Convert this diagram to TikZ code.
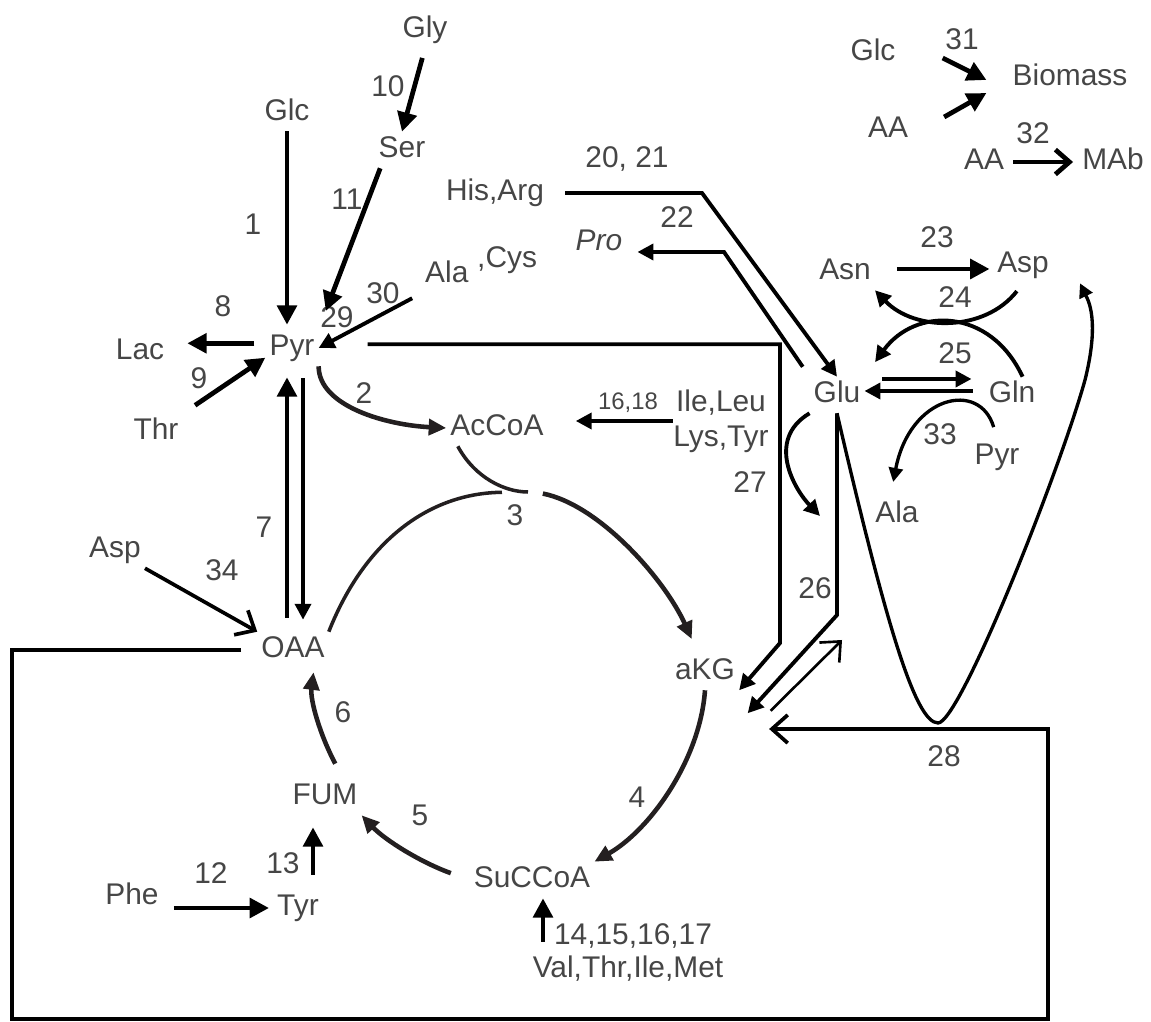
\documentclass[tikz,border=0pt]{standalone}
\usepackage{fontspec}
\setmainfont{Liberation Sans}
\usepackage{xcolor}
\definecolor{txtgray}{RGB}{70,70,70}
\definecolor{tcadark}{RGB}{35,31,32}
\usetikzlibrary{arrows.meta}

\begin{document}
\begin{tikzpicture}[
        x=0.01cm, y=-0.01cm,
        met/.style={
            inner sep=1pt,
            text=txtgray,
            font=\fontsize{8.5}{10}\selectfont,
            text height=6.2pt,
            text depth=1.8pt
          },
        num/.style={
            inner sep=0pt,
            text=txtgray,
            font=\fontsize{8.5}{10}\selectfont
          },
        bold/.style={-{Triangle[length=5.5pt,width=5.5pt]}, line width=1.35pt},
        flux/.style={-{Triangle[length=4.5pt,width=4.5pt]}, line width=1.1pt},
        slim/.style={-{Triangle[length=4pt,width=4pt]}, line width=0.95pt},
        tca/.style={-{Triangle[length=5pt,width=4.5pt]}, draw=tcadark, line width=1.3pt},
        tcaline/.style={draw=tcadark, line width=1pt},
        barb/.style={-{Straight Barb[length=4.5pt,width=8pt]}, line width=1.05pt},
        barbthin/.style={-{Straight Barb[length=4.5pt,width=8pt]}, line width=0.75pt},
        barbbold/.style={-{Straight Barb[length=4pt,width=7pt]}, line width=1.35pt}
      ]
      \useasboundingbox (0,0) rectangle (1151,1022);

      \node[met] (gly) at (425,30) {Gly};
      \node[met] (ser) at (402,150) {Ser};
      \node[met] (glc) at (287,113) {Glc};
      \node[met] (pyr) at (292,348) {Pyr};
      \node[met] (lac) at (140,352) {Lac};
      \node[met] (thr) at (156,432) {Thr};
      \node[met, anchor=base west] (ala_cys) at (421,283) {Ala\hspace{2.5pt}\raisebox{4.5pt}{,Cys}};
      \node[met] (his_arg) at (495,193) {His,Arg};
      \node[met] (accoa) at (497,428) {AcCoA};
      \node[met, font=\fontsize{8.5}{10}\selectfont\itshape] (pro) at (599,243) {Pro};
      \node[num, align=center] (ile_leu) at (721,421) {Ile,Leu\\Lys,Tyr};
      \node[met] (glu) at (837,395) {Glu};
      \node[met] (asn) at (845,272) {Asn};
      \node[met] (asp) at (1023,265) {Asp};
      \node[met] (gln) at (1012,395) {Gln};
      \node[met] (pyr_b) at (997,457) {Pyr};
      \node[met] (ala_b) at (897,515) {Ala};
      \node[met] (glc_b) at (873,53) {Glc};
      \node[met] (aa_1) at (888,130) {AA};
      \node[met] (biomass) at (1070,78) {Biomass};
      \node[met] (aa_2) at (984,162) {AA};
      \node[met] (mab) at (1113,162) {MAb};
      \node[met] (asp_b) at (115,550) {Asp};
      \node[met] (oaa) at (293,650) {OAA};
      \node[met] (fum) at (325,797) {FUM};
      \node[met] (phe) at (132,897) {Phe};
      \node[met] (tyr) at (298,908) {Tyr};
      \node[met] (succoa) at (532,880) {SuCCoA};
      \node[met] (val_thr) at (628,970) {Val,Thr,Ile,Met};
      \node[met] (akg) at (705,672) {aKG};

      \coordinate (k_pyr) at (780,643);
      \coordinate (k_glu) at (837,615);
      \coordinate (k_his) at (702,193);
      \coordinate (k_pro) at (724,252);
      \coordinate (cit) at (535,492);
      \coordinate (box_bl) at (12,1019);
      \coordinate (box_tr) at (1048,729);
      \coordinate (u_bottom) at (938,723);
      \coordinate (u_turn) at (1085,380);
      \coordinate (tip27) at (820,516);
      \coordinate (glu26) at (842,640);

      \node[num] (r1) at (253,224) {1};
      \node[num] (r2) at (364,393) {2};
      \node[num] (r3) at (515,515) {3};
      \node[num] (r4) at (637,797) {4};
      \node[num] (r5) at (420,815) {5};
      \node[num] (r6) at (343,712) {6};
      \node[num] (r7) at (264,527) {7};
      \node[num] (r8) at (223,306) {8};
      \node[num] (r9) at (199,378) {9};
      \node[num] (r10) at (388,86) {10};
      \node[num] (r11) at (347,199) {11};
      \node[num] (r12) at (211,873) {12};
      \node[num] (r13) at (283,863) {13};
      \node[num] (r14) at (633,936) {14,15,16,17};
      \node[num, font=\fontsize{6.8}{8}\selectfont] (r16) at (628,403) {16,18};
      \node[num] (r20) at (627,159) {20, 21};
      \node[num] (r22) at (677,217) {22};
      \node[num] (r23) at (937,237) {23};
      \node[num] (r24) at (955,297) {24};
      \node[num] (r25) at (955,353) {25};
      \node[num] (r26) at (815,588) {26};
      \node[num] (r27) at (750,482) {27};
      \node[num] (r28) at (944,756) {28};
      \node[num] (r29) at (337,317) {29};
      \node[num] (r30) at (383,293) {30};
      \node[num] (r31) at (962,39) {31};
      \node[num] (r32) at (1033,133) {32};
      \node[num] (r33) at (940,434) {33};
      \node[num] (r34) at (222,570) {34};

      \draw[bold, shorten >=0.5mm] (glc.south) -- (glc.south |- pyr.north);
      \draw[bold, shorten <=1mm] (gly.south) -- (ser.north);
      \draw[bold, shorten >=2mm] (ser.220) -- (pyr.north east);
      \draw[bold, shorten <=1.1mm, shorten >=1.9mm] (pyr.170) -- (pyr.170 -| lac.east);
      \draw[bold, shorten <=1.5mm] (thr.north east) -- (pyr.200);
      \draw[flux, shorten <=1mm] (ala_cys.south west) -- (pyr.east);
      \draw[tca] (pyr.south east) .. controls +(0,40) and +(-60,-3) .. (accoa.west);

      \draw[bold, shorten <=1.4mm, shorten >=1.1mm] ([xshift=-0.6mm]oaa.north) -- ([xshift=-0.6mm]oaa.north |- pyr.south);
      \draw[flux, shorten <=1.2mm, shorten >=1.2mm] ([xshift=1.1mm]pyr.south) -- ([xshift=1.1mm]pyr.south |- oaa.north);

      \draw[tcaline, shorten >=0.7mm] (accoa.205) .. controls (475,478) and (505,492) .. (cit);
      \draw[tcaline, shorten >=3.3mm] (oaa.north east) .. controls (365,540) and (430,493) .. (cit);
      \draw[tca, shorten <=0.8mm, shorten >=1.6mm] (cit) .. controls (600,505) and (665,580) .. (akg.110);
      \draw[tca] (akg.south) .. controls (700,760) and (650,830) .. (succoa.north east);
      \draw[tca, shorten <=2mm] (succoa.west) .. controls (420,862) and (385,840) .. (fum.south east);
      \draw[tca, shorten <=1.7mm, shorten >=0.4mm] (fum.45) .. controls (320,735) and (310,700) .. (oaa.-41);

      \draw[barb] (asp_b.south east) -- (oaa.north west);
      \draw[bold, shorten <=1.1mm, shorten >=0.4mm] (tyr.west -| phe.east) -- (tyr.west);
      \draw[bold, shorten <=1.5mm, shorten >=1.2mm] ([xshift=1.5mm]tyr.north) -- ([xshift=1.5mm]tyr.north |- fum.south);
      \draw[bold, shorten <=1mm] ([xshift=1.1mm]succoa.south |- val_thr.north) -- ([xshift=1.1mm]succoa.south);

      \draw[flux, shorten <=4.9mm] (pyr.8) -| (k_pyr) -- (akg.south east);
      \draw[flux, shorten <=1.7mm] (his_arg.east) -- (k_his) -- (glu.north);
      \draw[flux, shorten <=1.2mm, shorten >=1.1mm] (glu.north west) -- (k_pro) -- (k_pro -| pro.east);
      \draw[flux, shorten >=2.8mm] (ile_leu.west) -- (ile_leu.west -| accoa.east);
      \draw[flux] (glu.south) -- (k_glu) -- ([shift={(8.5,23)}]akg.south east);
      \draw[barbthin] ([shift={(31.5,20.5)}]akg.south east) -- (glu26);
      \draw[barb, shorten <=1.6mm, shorten >=3mm] (oaa.west) -| (box_bl) -| (box_tr) -- (box_tr -| akg.east);

      \draw[flux] (glu.south west) .. controls (765,440) and (795,490) .. (tip27);
      \draw[slim] (glu.south) .. controls (885,620) and (915,723) .. (u_bottom)
        .. controls (960,723) and (1060,470) .. (u_turn)
        .. controls (1100,320) and (1088,300) .. ([xshift=2.7mm]asp.south east);

      \draw[flux, shorten <=1.8mm, shorten >=1.3mm] ([yshift=1.6mm]glu.east) -- ([yshift=1.6mm]gln.west);
      \draw[flux, shorten <=1.2mm] ([yshift=0.4mm]gln.west) -- ([yshift=0.4mm]glu.east);
      \draw[bold, shorten <=2.2mm, shorten >=0.35mm] ([yshift=0.3mm]asn.east) -- ([yshift=0.3mm]asn.east -| asp.west);
      \draw[flux, shorten <=1mm] (asp.south) .. controls (985,332) and (915,332) .. (asn.south east);
      \draw[flux, shorten >=1.8mm] (gln.60) .. controls (990,307) and (915,307) .. (glu.north east);
      \draw[slim, shorten <=1.2mm, shorten >=1.5mm] (pyr_b.north) .. controls (980,380) and (910,395) .. (ala_b.110);

      \draw[bold] ([shift={(43,5)}]glc_b.east) -- ([shift={(-22,2)}]biomass.west);
      \draw[bold] ([shift={(32,-13)}]aa_1.east) -- ([shift={(-22,15)}]biomass.west);
      \draw[barbbold, shorten <=0.5mm, shorten >=0.5mm] (aa_2.east) -- (mab.west);
    \end{tikzpicture}
\end{document}
